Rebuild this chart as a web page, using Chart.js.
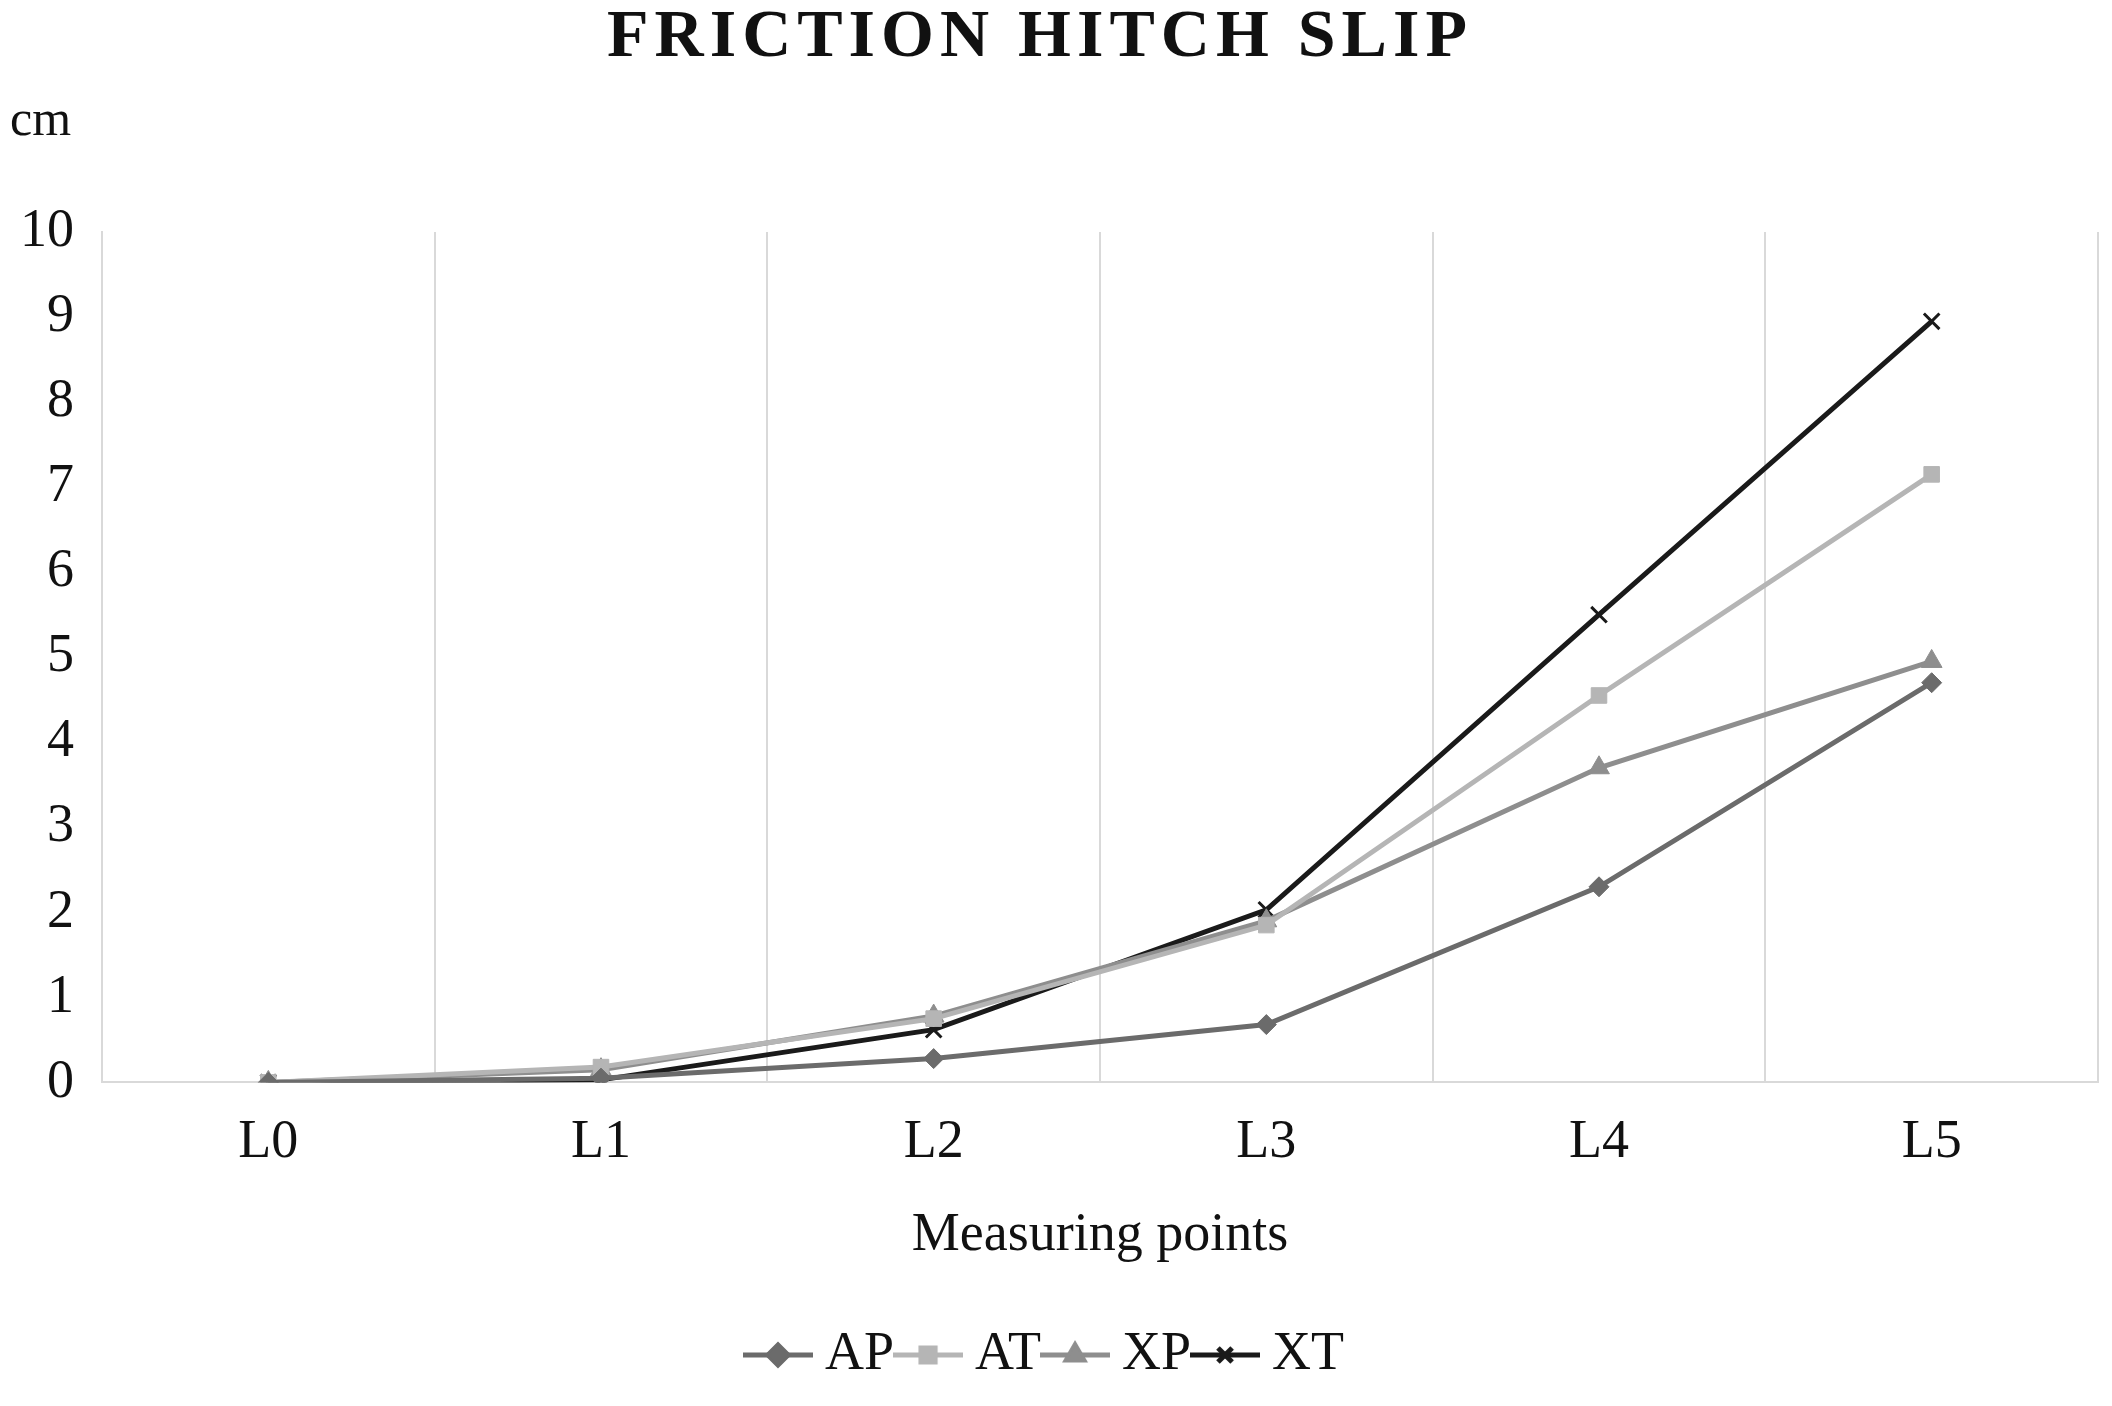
<!DOCTYPE html>
<html>
<head>
<meta charset="utf-8">
<script src="https://cdn.jsdelivr.net/npm/chart.js@4/dist/chart.umd.min.js"></script>
<style>
  html, body { margin: 0; padding: 0; background: #fff; }
  #wrap { width: 2112px; height: 1406px; }
</style>
</head>
<body>
<div id="wrap"><canvas id="myChart"></canvas></div>
<script>
const categories = ['L0', 'L1', 'L2', 'L3', 'L4', 'L5'];
const apValues = [0, 0.05, 0.28, 0.68, 2.3, 4.7];
const atValues = [0, 0.18, 0.75, 1.85, 4.55, 7.15];
const xpValues = [0, 0.15, 0.78, 1.9, 3.7, 4.95];
const xtValues = [0, 0.03, 0.62, 2.03, 5.5, 8.95];

const font = 'Liberation Serif';

// title (letter spaced) and "cm" unit label
const extraText = {
  id: 'extraText',
  afterDraw(chart) {
    const c = chart.ctx;
    c.save();
    c.fillStyle = '#111';
    c.textBaseline = 'middle';
    c.font = 'bold 68px "' + font + '"';
    c.letterSpacing = '6px';
    c.textAlign = 'center';
    c.fillText('FRICTION HITCH SLIP', 1040, 38);
    c.letterSpacing = '0px';
    c.font = '50px "' + font + '"';
    c.textAlign = 'left';
    c.fillText('cm', 10, 122);
    c.restore();
  }
};

// legend symbol: short line with marker in the middle
function legendIcon(color, style) {
  const cv = document.createElement('canvas');
  cv.width = 70; cv.height = 30;
  const c = cv.getContext('2d');
  c.strokeStyle = color; c.fillStyle = color; c.lineWidth = 5;
  c.beginPath(); c.moveTo(0, 15); c.lineTo(70, 15); c.stroke();
  Chart.helpers.drawPoint(c, { pointStyle: style, radius: 10, borderWidth: 3 }, 35, 15);
  if (style !== 'crossRot') c.fill();
  return cv;
}

function ds(label, data, color, style, size) {
  return {
    label: label,
    data: data,
    borderColor: color,
    backgroundColor: color,
    borderWidth: 5,
    pointStyle: style,
    pointRadius: size,
    pointBorderWidth: style === 'crossRot' ? 3 : 1,
    tension: 0,
    legendIcon: legendIcon(color, style)
  };
}

window.addEventListener('load', function () {
  const ctx = document.getElementById('myChart').getContext('2d');
  new Chart(ctx, {
    type: 'line',
    data: {
      labels: categories,
      datasets: [
        ds('AP', apValues, '#6b6b6b', 'rectRot', 10),
        ds('AT', atValues, '#b5b5b5', 'rect', 11),
        ds('XP', xpValues, '#8e8e8e', 'triangle', 12),
        ds('XT', xtValues, '#1a1a1a', 'crossRot', 11)
      ]
    },
    options: {
      responsive: true,
      maintainAspectRatio: false,
      animation: false,
      layout: { padding: { left: 0, right: 10, top: 232, bottom: 14 } },
      plugins: {
        title: { display: false },
        legend: {
          position: 'bottom',
          labels: {
            color: '#111',
            font: { family: font, size: 54 },
            usePointStyle: true,
            padding: 14,
            generateLabels(chart) {
              return chart.data.datasets.map((d, i) => ({
                text: d.label,
                pointStyle: d.legendIcon,
                fillStyle: d.borderColor,
                strokeStyle: d.borderColor,
                fontColor: '#111',
                lineWidth: 0,
                datasetIndex: i,
                hidden: false
              }));
            }
          }
        },
        tooltip: { enabled: false }
      },
      scales: {
        x: {
          offset: true,
          grid: { offset: true, color: '#d9d9d9', lineWidth: 2, drawTicks: false },
          border: { color: '#d9d9d9', width: 2 },
          ticks: { color: '#111', font: { family: font, size: 54 }, padding: 28 },
          title: {
            display: true,
            text: 'Measuring points',
            color: '#111',
            font: { family: font, size: 54 },
            padding: { top: 0, bottom: 46 }
          }
        },
        y: {
          min: 0,
          max: 10,
          ticks: { stepSize: 1, color: '#111', font: { family: font, size: 54 }, padding: 20 },
          grid: { display: false },
          border: { color: '#d9d9d9', width: 2 }
        }
      }
    },
    plugins: [extraText]
  });
});
</script>
</body>
</html>
